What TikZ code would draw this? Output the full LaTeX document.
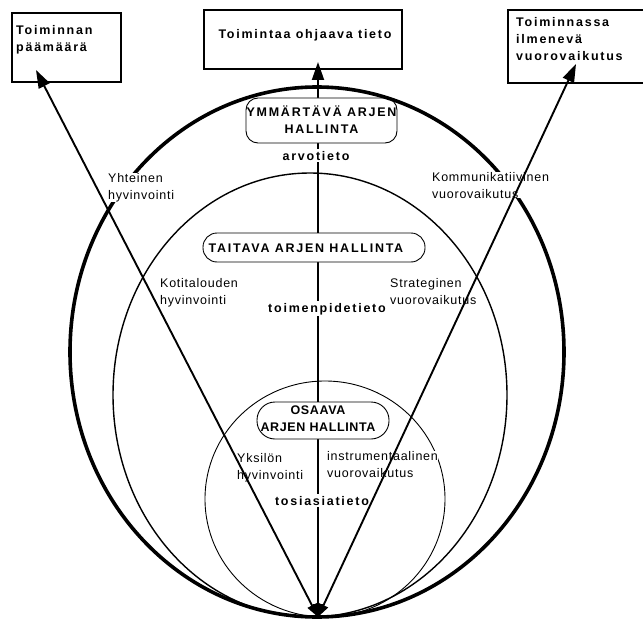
\documentclass[tikz,border=0pt]{standalone}
\usepackage{fontspec}
\setmainfont{Liberation Sans}
\newfontfamily\fr{Liberation Sans}[LetterSpace=6]
\newfontfamily\fb{Liberation Sans Bold}[LetterSpace=14]
\newfontfamily\fbn{Liberation Sans Bold}[LetterSpace=5]
\usetikzlibrary{arrows.meta}
\newcommand{\rtx}{\fr\fontsize{12.5}{17}\selectfont}
\newcommand{\btx}{\fb\fontsize{12.5}{17}\selectfont}
\newcommand{\bntx}{\fbn\fontsize{12.5}{17}\selectfont}
\tikzset{
  topbox/.style={draw, line width=1.8pt, rectangle, inner sep=0pt},
  pill/.style={draw, line width=0.9pt, fill=white, rectangle, inner sep=0pt},
  lbl/.style={font=\rtx, align=left, anchor=north west, inner sep=0pt, fill=white},
  blbl/.style={font=\btx, align=left, anchor=north west, inner sep=0pt},
  tag/.style={font=\btx, fill=white, inner sep=1.5pt, anchor=base},
  ptext/.style={font=\btx, align=center, inner sep=0pt},
  tip/.style={line width=1.9pt, {Triangle[length=13pt,width=10pt]}-{Triangle[length=18pt,width=12pt]}}
}
\begin{document}
\begin{tikzpicture}[x=1pt,y=-1pt]
\useasboundingbox (0,0) rectangle (643,626);
\clip (0,0) rectangle (643,626);
% top boxes
\node[topbox, minimum width=109pt, minimum height=69pt] (lbox) at (66.5,47.5) {};
\node[topbox, minimum width=198pt, minimum height=59pt] (mbox) at (303,39.5) {};
\node[topbox, minimum width=147pt, minimum height=73pt] (rbox) at (581.5,46.5) {};
\node[blbl] (lboxt) at (16,25) {Toiminnan\\päämäärä};
\node[font=\btx, anchor=base, inner sep=0pt] (mboxt) at (305,39) {Toimintaa ohjaava tieto};
\node[blbl] (rboxt) at (516,17) {Toiminnassa\\ilmenevä\\vuorovaikutus};
% end points
\coordinate (o) at (318,617);
\coordinate (tl) at (36,70);
\coordinate (tm) at (318,62);
\coordinate (tr) at (576,64);
% vertical arrow
\draw[tip] (o) -- (tm);
% pills
\node[pill, minimum width=151pt, minimum height=45pt, rounded corners=12pt] (ymm) at (321.5,120.5) {};
\node[pill, minimum width=222pt, minimum height=29pt, rounded corners=14pt] (tai) at (314,247.5) {};
\node[pill, minimum width=132pt, minimum height=37pt, rounded corners=18pt] (osa) at (323,420.5) {};
\node[ptext] (ymmt) at (321.5,120) {YMMÄRTÄVÄ ARJEN\\HALLINTA};
\node[ptext] (tait) at (306,248) {TAITAVA ARJEN HALLINTA};
\node[ptext, font=\bntx] (osat) at (318,418.5) {OSAAVA\\ARJEN HALLINTA};
% tags
\node[tag] (arvo) at (316,160) {arvotieto};
\node[tag] (toim) at (327,312) {toimenpidetieto};
\node[tag] (tosi) at (322,505) {tosiasiatieto};
% ellipses
\draw[line width=3.6pt] (317,352) ellipse [x radius=247pt, y radius=265pt];
\draw[line width=1.4pt] (310,395) ellipse [x radius=197pt, y radius=222pt];
\draw[line width=0.9pt] (325,499) ellipse [x radius=120pt, y radius=118pt];
% labels
\node[lbl] (l1) at (108,173) {Yhteinen\\hyvinvointi};
\node[lbl] (l2) at (432,172) {Kommunikatiivinen\\vuorovaikutus};
\node[lbl] (l3) at (160,278) {Kotitalouden\\hyvinvointi};
\node[lbl] (l4) at (390,278) {Strateginen\\vuorovaikutus};
\node[lbl] (l5) at (237,453) {Yksilön\\hyvinvointi};
\node[lbl] (l6) at (327,451) {instrumentaalinen\\vuorovaikutus};
% diagonal arrows
\draw[tip] (o) -- (tl);
\draw[tip] (o) -- (tr);
\end{tikzpicture}
\end{document}
